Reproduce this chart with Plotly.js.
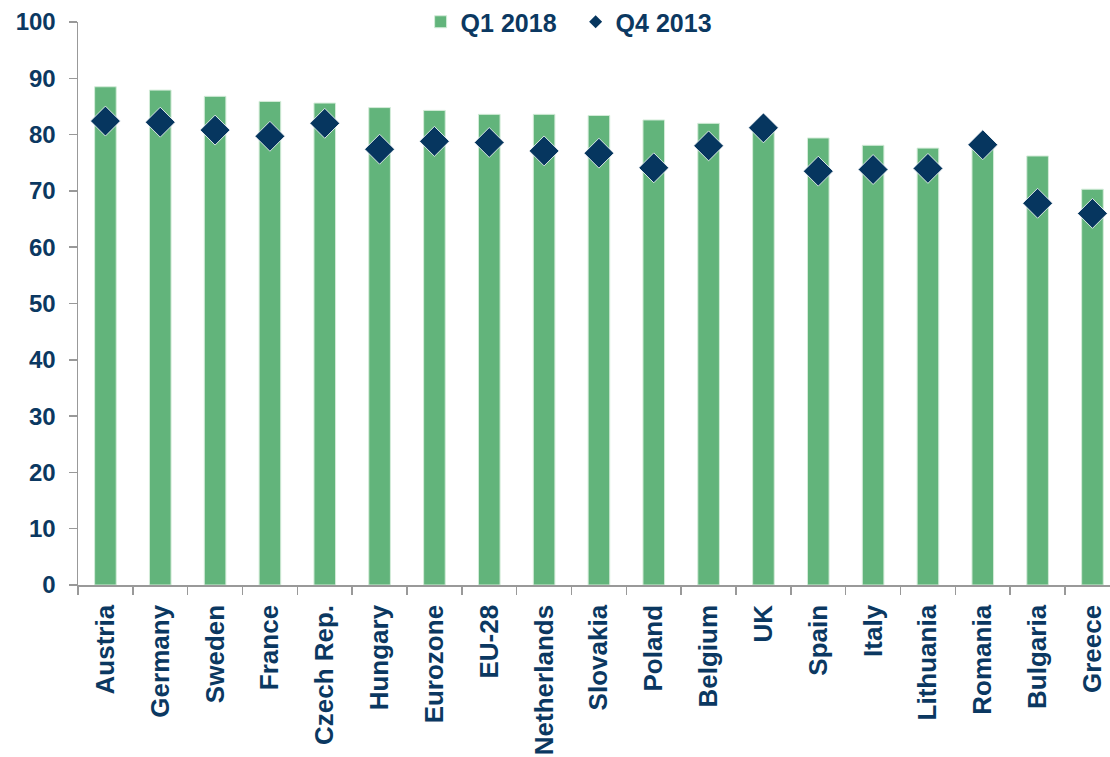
<!DOCTYPE html>
<html>
<head>
<meta charset="utf-8">
<script src="https://cdn.plot.ly/plotly-3.0.1.min.js"></script>
<style>html,body{margin:0;padding:0;background:#fff;}#chart{width:1110px;height:757px;}</style>
</head>
<body>
<div id="chart"></div>
<script>
const categories = ["Austria","Germany","Sweden","France","Czech Rep.","Hungary","Eurozone","EU-28","Netherlands","Slovakia","Poland","Belgium","UK","Spain","Italy","Lithuania","Romania","Bulgaria","Greece"];
const q1_2018 = [88.5,87.9,86.8,85.9,85.6,84.8,84.3,83.6,83.6,83.4,82.6,82.0,81.0,79.4,78.1,77.6,78.0,76.2,70.3];
const q4_2013 = [82.4,82.2,80.8,79.7,82.0,77.4,78.8,78.6,77.1,76.7,74.1,78.0,81.2,73.5,73.8,74.0,78.2,67.8,66.0];
const yTicks = [0,10,20,30,40,50,60,70,80,90,100];

const navy = '#06365f';
const green = '#62b47b';
const textColor = '#0b3861';
const fam = 'Arial, "Liberation Sans", sans-serif';

const traces = [
  {
    type: 'bar', name: 'Q1 2018', x: categories, y: q1_2018,
    marker: {color: green, line: {color: '#d4ecd9', width: 1}},
    width: 0.394
  },
  {
    type: 'scatter', mode: 'markers', name: 'Q4 2013', x: categories, y: q4_2013,
    marker: {symbol: 'diamond', size: 23, color: navy, line: {color: 'rgba(255,255,255,0.8)', width: 1}},
    showlegend: false
  },
  {
    type: 'scatter', mode: 'markers', name: 'Q4 2013', x: [null], y: [null],
    marker: {symbol: 'diamond', size: 10, color: navy}
  }
];

const layout = {
  width: 1110, height: 757,
  margin: {l: 78, r: 0, t: 22, b: 172, autoexpand: false},
  paper_bgcolor: '#fff', plot_bgcolor: '#fff',
  font: {family: fam, size: 24, color: textColor, weight: 'bold'},
  showlegend: true,
  legend: {
    orientation: 'h', x: 0.332, xanchor: 'left', y: 1.0, yanchor: 'middle',
    font: {family: fam, size: 25, color: textColor, weight: 'bold'},
    bgcolor: 'rgba(255,255,255,0)', traceorder: 'normal', entrywidth: 110
  },
  xaxis: {
    type: 'category', categoryorder: 'array', categoryarray: categories,
    range: [-0.5, 18.32], autorange: false,
    showline: true, linecolor: '#999', linewidth: 1.5,
    ticks: 'outside', tickson: 'boundaries', ticklen: 8, tickcolor: '#999', tickwidth: 1.5,
    tickangle: -90, ticklabelstandoff: 8,
    tickfont: {family: fam, size: 26, color: textColor, weight: 'bold'},
    showgrid: false, zeroline: false, fixedrange: true
  },
  yaxis: {
    range: [0, 100], autorange: false, tickvals: yTicks, ticktext: yTicks.map(String),
    showline: true, linecolor: '#999', linewidth: 1.5,
    ticks: 'outside', ticklen: 8, tickcolor: '#999', tickwidth: 1.5,
    ticklabelstandoff: 8,
    tickfont: {family: fam, size: 24, color: textColor, weight: 'bold'},
    showgrid: false, zeroline: false, fixedrange: true
  },
  bargap: 0.6
};

Plotly.newPlot('chart', traces, layout, {displayModeBar: false, staticPlot: true});
</script>
</body>
</html>
